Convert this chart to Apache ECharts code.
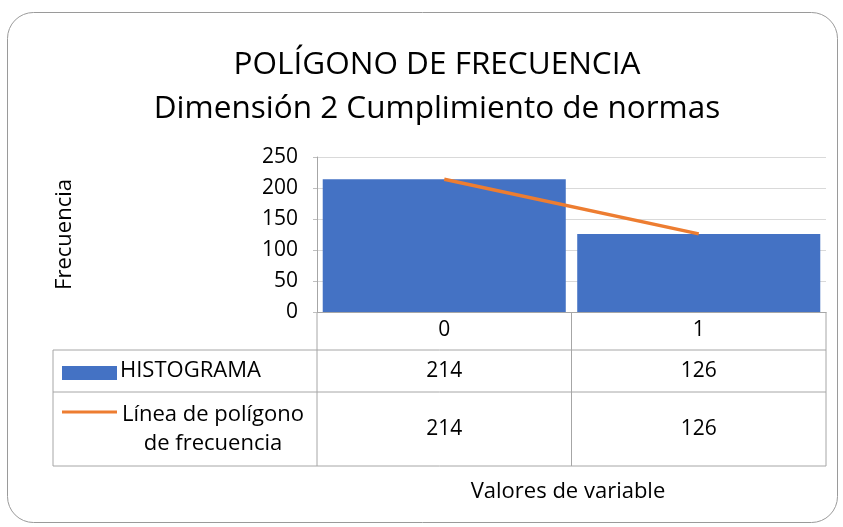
<!DOCTYPE html>
<html>
<head>
<meta charset="utf-8">
<script src="https://cdn.jsdelivr.net/npm/echarts@6/dist/echarts.min.js"></script>
<style>
  html, body { margin: 0; padding: 0; background: #fff; }
  #chart { width: 843px; height: 527px; }
</style>
</head>
<body>
<div id="chart"></div>
<script>
const categories = ['0', '1']
const histograma = [214, 126]
const poligono = [214, 126]
const seriesNames = ['HISTOGRAMA', 'Línea de polígono\nde frecuencia']

const FONT = 'Open Sans'
const TXT = 21
const TBL = 22
const plotLeft = 317
const plotRight = 826
const plotTop = 157
const plotBottom = 312
const tableLeft = 53
const rowLines = [350, 392, 466]

const chart = echarts.init(document.getElementById('chart'))

const colW = (plotRight - plotLeft) / categories.length
const colCenter = (i) => plotLeft + colW * (i + 0.5)
const font = (size) => size + 'px "' + FONT + '"'

const graphics = []
// outer rounded frame
graphics.push({
  type: 'rect',
  shape: { x: 7.5, y: 12.5, width: 830, height: 510, r: 26 },
  style: { fill: 'none', stroke: '#9a9a9a', lineWidth: 1 },
  silent: true
})
// table horizontal lines
rowLines.forEach((y) => {
  graphics.push({
    type: 'line',
    shape: { x1: tableLeft, y1: y, x2: plotRight, y2: y },
    style: { stroke: '#a6a6a6', lineWidth: 1 }
  })
})
// table vertical lines
graphics.push({
  type: 'line',
  shape: { x1: tableLeft, y1: rowLines[0], x2: tableLeft, y2: rowLines[2] },
  style: { stroke: '#a6a6a6', lineWidth: 1 }
})
for (let i = 0; i <= categories.length; i++) {
  const x = plotLeft + colW * i
  graphics.push({
    type: 'line',
    shape: { x1: x, y1: plotBottom, x2: x, y2: rowLines[2] },
    style: { stroke: '#a6a6a6', lineWidth: 1 }
  })
}
// value cells
const rowData = [histograma, poligono]
rowData.forEach((vals, r) => {
  const yMid = (rowLines[r] + rowLines[r + 1]) / 2
  vals.forEach((v, i) => {
    graphics.push({
      type: 'text',
      style: {
        text: String(v), x: colCenter(i), y: yMid,
        align: 'center', verticalAlign: 'middle',
        font: font(TXT), fill: '#000'
      }
    })
  })
})
// legend keys
graphics.push({
  type: 'rect',
  shape: { x: 62, y: 366, width: 55, height: 14 },
  style: { fill: '#4472C4' }
})
graphics.push({
  type: 'text',
  style: {
    text: seriesNames[0], x: 120, y: (rowLines[0] + rowLines[1]) / 2,
    align: 'left', verticalAlign: 'middle',
    font: font(TBL), fill: '#000'
  }
})
graphics.push({
  type: 'line',
  shape: { x1: 62, y1: 412, x2: 117, y2: 412 },
  style: { stroke: '#ED7D31', lineWidth: 3 }
})
graphics.push({
  type: 'text',
  style: {
    text: seriesNames[1], x: 213, y: (rowLines[1] + rowLines[2]) / 2,
    align: 'center', verticalAlign: 'middle', lineHeight: 29,
    font: font(TBL), fill: '#000'
  }
})
// x axis title
graphics.push({
  type: 'text',
  style: {
    text: 'Valores de variable', x: 568, y: 492,
    align: 'center', verticalAlign: 'middle',
    font: font(TBL), fill: '#000'
  }
})

chart.setOption({
  animation: false,
  title: {
    text: 'POLÍGONO DE FRECUENCIA\nDimensión 2 Cumplimiento de normas',
    left: 432,
    top: 38,
    textAlign: 'center',
    textStyle: { fontFamily: FONT, fontSize: 31.5, fontWeight: 'normal', color: '#000', lineHeight: 44 }
  },
  grid: {
    left: plotLeft,
    right: 843 - plotRight,
    top: plotTop,
    bottom: 527 - plotBottom
  },
  xAxis: {
    type: 'category',
    data: categories,
    axisLine: { lineStyle: { color: '#a6a6a6' } },
    axisTick: { show: false },
    axisLabel: { color: '#000', fontFamily: FONT, fontSize: TXT, margin: 8 }
  },
  yAxis: {
    type: 'value',
    min: 0,
    max: 250,
    interval: 50,
    name: 'Frecuencia',
    nameLocation: 'middle',
    nameGap: 241,
    nameRotate: 90,
    nameTextStyle: { color: '#000', fontFamily: FONT, fontSize: TBL },
    axisLine: { show: true, lineStyle: { color: '#a6a6a6' } },
    axisTick: { show: true, length: 4, lineStyle: { color: '#bfbfbf' } },
    axisLabel: { color: '#000', fontFamily: FONT, fontSize: TXT, margin: 19 },
    splitLine: { lineStyle: { color: '#d9d9d9' } }
  },
  series: [
    {
      name: 'HISTOGRAMA',
      type: 'bar',
      data: histograma,
      barCategoryGap: '4.5%',
      itemStyle: { color: '#4472C4' }
    },
    {
      name: 'Línea de polígono de frecuencia',
      type: 'line',
      data: poligono,
      symbol: 'none',
      lineStyle: { color: '#ED7D31', width: 3.5 }
    }
  ],
  graphic: graphics
})
</script>
</body>
</html>
